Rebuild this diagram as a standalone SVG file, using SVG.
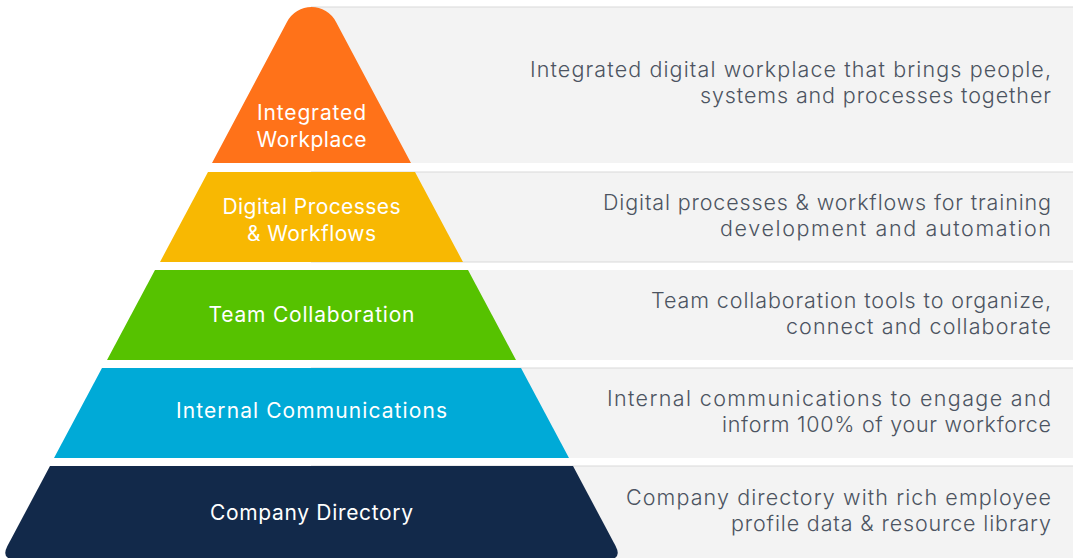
<svg xmlns="http://www.w3.org/2000/svg" width="1073" height="558" viewBox="0 0 1073 558">
<style>
.band{fill:#f3f3f3}
.bline{stroke:#dadada;stroke-width:1.2}
.desc{font-family:Inter,"Open Sans","Liberation Sans",sans-serif;font-weight:300;font-size:21.5px;fill:#4c5461;text-anchor:end}
.lbl{font-family:Inter,"Open Sans","Liberation Sans",sans-serif;font-weight:400;font-size:21px;fill:#ffffff;text-anchor:middle}
</style>
<rect width="1073" height="558" fill="#ffffff"/>
<g id="bands">
<rect class="band" x="311" y="7" width="762" height="156"/>
<rect class="band" x="311" y="172" width="762" height="90"/>
<rect class="band" x="311" y="270" width="762" height="90"/>
<rect class="band" x="311" y="368" width="762" height="90"/>
<rect class="band" x="311" y="466" width="762" height="92"/>
<line class="bline" x1="311" y1="7" x2="1073" y2="7"/>
<line class="bline" x1="311" y1="172" x2="1073" y2="172"/>
<line class="bline" x1="311" y1="262" x2="1073" y2="262"/>
<line class="bline" x1="311" y1="368" x2="1073" y2="368"/>
<line class="bline" x1="311" y1="466" x2="1073" y2="466"/>
</g>
<g id="connectors"></g>
<g id="tier1">
<path d="M212,163 L287.1,21.7 A27.6,27.6 0 0 1 335.9,21.7 L411,163 Z" fill="#ff7219"/>
<text class="lbl" x="311.5" y="120" textLength="109">Integrated</text>
<text class="lbl" x="311.5" y="147" textLength="110">Workplace</text>
<text class="desc" x="1051" y="77" textLength="521">Integrated digital workplace that brings people,</text>
<text class="desc" x="1051" y="103" textLength="351">systems and processes together</text>
</g>
<g id="tier2">
<path d="M208,172 L415,172 L463,262 L160,262 Z" fill="#f8b802"/>
<text class="lbl" x="311.5" y="214" textLength="178">Digital Processes</text>
<text class="lbl" x="311.5" y="241" textLength="129">&amp; Workflows</text>
<text class="desc" x="1051" y="210" textLength="448">Digital processes &amp; workflows for training</text>
<text class="desc" x="1051" y="236" textLength="331">development and automation</text>
</g>
<g id="tier3">
<path d="M155,270 L468,270 L516,360 L107,360 Z" fill="#56c200"/>
<text class="lbl" x="311.5" y="322" textLength="206">Team Collaboration</text>
<text class="desc" x="1051" y="308" textLength="400">Team collaboration tools to organize,</text>
<text class="desc" x="1051" y="334" textLength="265">connect and collaborate</text>
</g>
<g id="tier4">
<path d="M102,368 L521,368 L569,458 L54,458 Z" fill="#00aad7"/>
<text class="lbl" x="311.5" y="418" textLength="271">Internal Communications</text>
<text class="desc" x="1051" y="406" textLength="444">Internal communications to engage and</text>
<text class="desc" x="1051" y="432" textLength="329">inform 100% of your workforce</text>
</g>
<g id="tier5">
<path d="M50,466 L573,466 L615.6,546 Q623,560 605,560 L18,560 Q0,560 7.4,546 Z" fill="#12294a"/>
<text class="lbl" x="311.5" y="520" textLength="203">Company Directory</text>
<text class="desc" x="1051" y="505" textLength="425">Company directory with rich employee</text>
<text class="desc" x="1051" y="531" textLength="320">profile data &amp; resource library</text>
</g>
</svg>
